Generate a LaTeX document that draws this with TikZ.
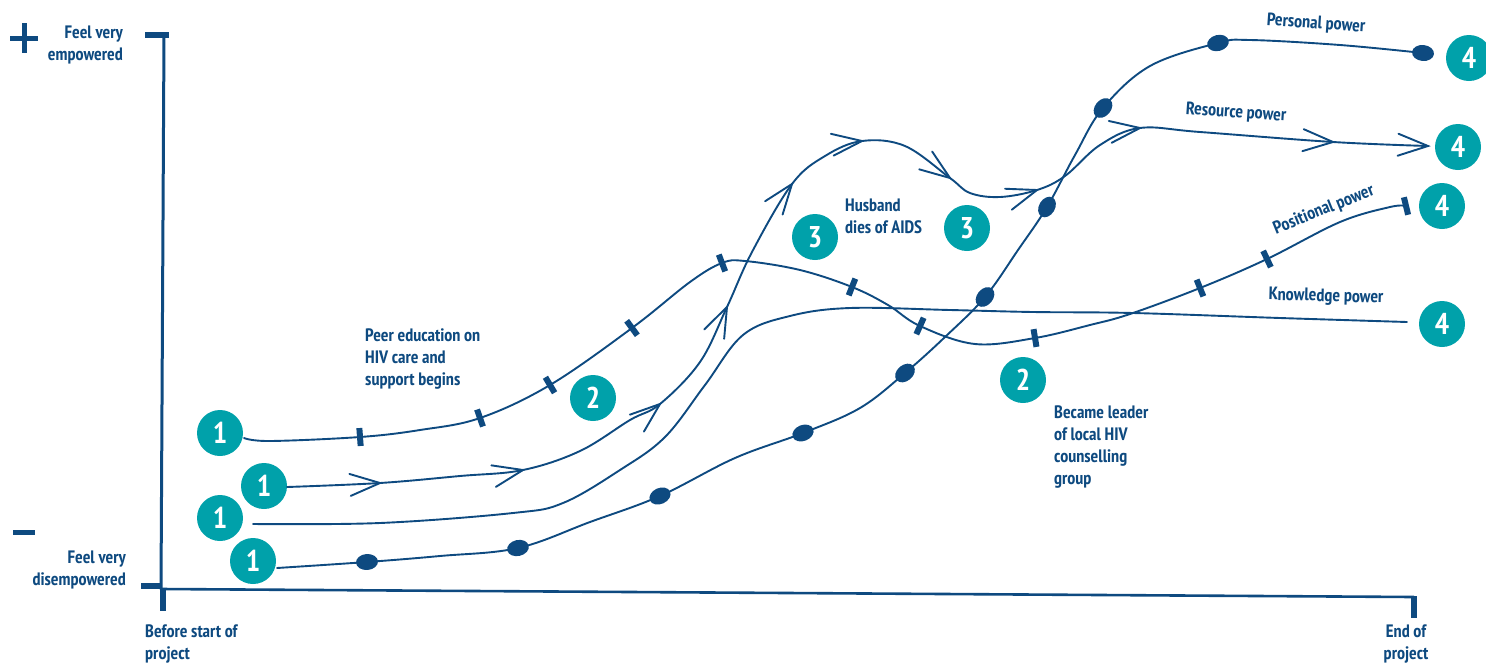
\documentclass[tikz,border=0pt]{standalone}
\usepackage{fontspec}
\setmainfont{PT Sans Narrow}
\usetikzlibrary{calc}
\definecolor{navy}{RGB}{14,74,128}
\definecolor{tealc}{RGB}{0,161,170}
\newcommand\placemk[4]{\path let \p1=($(#4)-(#2)$), \n1={atan2(\y1,\x1)} in (#3) pic[rotate=\n1]{#1};}
\begin{document}
\begin{tikzpicture}[x=1pt,y=-1pt,
  num/.style={circle, fill=tealc, minimum size=46pt, inner sep=0pt, text=white, font=\fontsize{30}{30}\selectfont\bfseries},
  lbl/.style={text=navy, font=\fontsize{18}{22}\selectfont\bfseries, inner sep=0pt, align=left},
  curve/.style={navy, line width=1.9pt, line cap=round, line join=round},
  axisline/.style={navy, line width=3pt, line cap=round},
  axistick/.style={navy, line width=6pt},
  tickm/.pic={\fill[navy] (-3pt,-9pt) rectangle (3pt,9pt);},
  ovalm/.pic={\fill[navy] (0,0) ellipse [x radius=11pt, y radius=8pt];},
  chev/.pic={\draw[navy, line width=1.9pt, line cap=round, line join=miter] (-30pt,11pt) -- (0pt,0pt) -- (-30pt,-11pt);}
]
\useasboundingbox (0,0) rectangle (1486,665);

% axes
\coordinate (ytop) at (164,35);
\coordinate (orig) at (161,589);
\coordinate (xend) at (1414,597);
\draw[axisline] (ytop) -- (orig);
\draw[axistick] (145,35) -- (169,35);
\draw[axistick] (141,586) -- (161,586);
\draw[navy, line width=2.6pt] (orig) -- (xend);
\draw[axistick] (163,590) -- (163,611);
\draw[axistick] (1414,596) -- (1414,618);
% plus / minus
\draw[navy, line width=5pt] (10,38) -- (38,38) (24,23) -- (24,53);
\draw[navy, line width=5pt] (13,532) -- (35,532);

% axis labels
\node[lbl, align=right, anchor=east] (fve) at (123,45) {Feel very\\empowered};
\node[lbl, align=right, anchor=east] (fvd) at (126,570) {Feel very\\disempowered};
\node[lbl, anchor=west] (bsp) at (145,644) {Before start of\\project};
\node[lbl, align=center] (eop) at (1406,644) {End of\\project};

% numbered circles
\node[num] (n1a) at (220,433) {1};
\node[num] (n1b) at (264,486) {1};
\node[num] (n1c) at (220,518) {1};
\node[num] (n1d) at (253,561) {1};
\node[num] (n2a) at (593,398) {2};
\node[num] (n2b) at (1023,380) {2};
\node[num] (n3a) at (815,237) {3};
\node[num] (n3b) at (967,228) {3};
\node[num] (n4a) at (1469,58) {4};
\node[num] (n4b) at (1458,147) {4};
\node[num] (n4c) at (1442,206) {4};
\node[num] (n4d) at (1442,324) {4};

% curve A (positional power, ticks)
\foreach \x/\y [count=\i from 0] in {244/438,270/441,360/437,420/430,480/418,550/385,632/328,690/282,722/263,745/261,800/270,852/287,888/305,920/326,975/344,1035/338,1090/325,1130/314,1200/288,1267/259,1340/222,1390/207,1406/206}
  \coordinate (A\i) at (\x,\y);
\draw[curve] plot[smooth, tension=0.6] coordinates {(A0) (A1) (A2) (A3) (A4) (A5) (A6) (A7) (A8) (A9) (A10) (A11) (A12) (A13) (A14) (A15) (A16) (A17) (A18) (A19) (A20) (A21) (A22)};
\placemk{tickm}{A1}{A2}{A3}
\placemk{tickm}{A3}{A4}{A5}
\placemk{tickm}{A4}{A5}{A6}
\placemk{tickm}{A5}{A6}{A7}
\placemk{tickm}{A7}{A8}{A9}
\placemk{tickm}{A10}{A11}{A12}
\placemk{tickm}{A12}{A13}{A14}
\placemk{tickm}{A14}{A15}{A16}
\placemk{tickm}{A17}{A18}{A19}
\placemk{tickm}{A18}{A19}{A20}
\placemk{tickm}{A20}{A22}{A22}

% curve B (resource power, arrows)
\foreach \x/\y [count=\i from 0] in {287/487,380/483,460/476,523/470,580/451,630/420,660/404,700/362,727/307,752/252,792/184,825/156,862/141,905/146,950/178,970/193,1000/197,1037/190,1065/176,1100/145,1140/128,1200/132,1333/142,1428/146}
  \coordinate (B\i) at (\x,\y);
\draw[curve] plot[smooth, tension=0.6] coordinates {(B0) (B1) (B2) (B3) (B4) (B5) (B6) (B7) (B8) (B9) (B10) (B11) (B12) (B13) (B14) (B15) (B16) (B17) (B18) (B19) (B20) (B21) (B22) (B23)};
\placemk{chev}{B0}{B1}{B2}
\placemk{chev}{B2}{B3}{B4}
\placemk{chev}{B5}{B6}{B7}
\placemk{chev}{B7}{B8}{B9}
\placemk{chev}{B9}{B10}{B11}
\placemk{chev}{B11}{B12}{B13}
\placemk{chev}{B13}{B14}{B15}
\placemk{chev}{B16}{B17}{B18}
\placemk{chev}{B19}{B20}{B21}
\placemk{chev}{B21}{B22}{B23}
\placemk{chev}{B22}{B23}{B23}

% curve C (knowledge power, plain)
\foreach \x/\y [count=\i from 0] in {253/524,380/523,513/513,563/503,620/470,665/437,705/385,743/335,790/316,850/308,950/310,1033/312,1133/313,1280/318,1407/322}
  \coordinate (C\i) at (\x,\y);
\draw[curve] plot[smooth, tension=0.6] coordinates {(C0) (C1) (C2) (C3) (C4) (C5) (C6) (C7) (C8) (C9) (C10) (C11) (C12) (C13) (C14)};

% curve D (personal power, ovals)
\foreach \x/\y [count=\i from 0] in {277/568,367/562,440/556,518/548,590/522,660/496,735/458,803/433,860/408,905/373,945/337,985/297,1018/250,1047/207,1075/155,1103/108,1150/66,1218/43,1250/40,1340/45,1423/53}
  \coordinate (D\i) at (\x,\y);
\draw[curve] plot[smooth, tension=0.6] coordinates {(D0) (D1) (D2) (D3) (D4) (D5) (D6) (D7) (D8) (D9) (D10) (D11) (D12) (D13) (D14) (D15) (D16) (D17) (D18) (D19) (D20)};
\placemk{ovalm}{D0}{D1}{D2}
\placemk{ovalm}{D2}{D3}{D4}
\placemk{ovalm}{D4}{D5}{D6}
\placemk{ovalm}{D6}{D7}{D8}
\placemk{ovalm}{D8}{D9}{D10}
\placemk{ovalm}{D10}{D11}{D12}
\placemk{ovalm}{D12}{D13}{D14}
\placemk{ovalm}{D14}{D15}{D16}
\placemk{ovalm}{D16}{D17}{D18}
\placemk{ovalm}{D19}{D20}{D20}

% event labels
\node[lbl, anchor=west] (peer) at (365,359) {Peer education on\\HIV care and\\support begins};
\node[lbl, anchor=west] (husb) at (845,216) {Husband\\dies of AIDS};
\node[lbl, anchor=west] (lead) at (1054,447) {Became leader\\of local HIV\\counselling\\group};

% power labels
\node[lbl, rotate=-4] (pers) at (1316,24) {Personal power};
\node[lbl, rotate=-4] (reso) at (1236,113) {Resource power};
\node[lbl, rotate=22] (posi) at (1324,210) {Positional power};
\node[lbl, rotate=-1.5] (know) at (1326,297) {Knowledge power};
\end{tikzpicture}
\end{document}
